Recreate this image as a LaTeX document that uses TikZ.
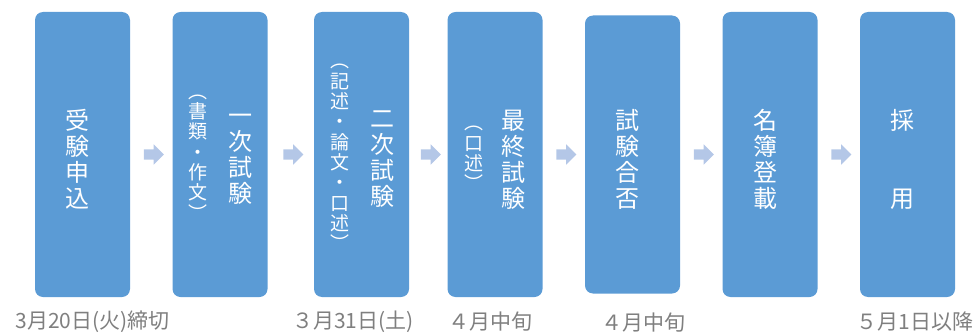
\documentclass[tikz,border=0pt]{standalone}
\usepackage{fontspec}
\setmainfont{Noto Sans CJK JP}
\usetikzlibrary{positioning, shapes.arrows}
\definecolor{stageblue}{HTML}{5B9BD5}
\definecolor{arrowblue}{HTML}{B4C7E7}
\definecolor{dategray}{HTML}{7F7F7F}

\begin{document}
\begin{tikzpicture}[x=1pt, y=1pt, node distance=137.5pt, on grid,
  stage/.style={rectangle, rounded corners=8pt, fill=stageblue, minimum width=95pt, minimum height=285pt, inner sep=0pt},
  maintext/.style={text=white, align=center, inner sep=0pt, font=\fontsize{24}{26}\selectfont},
  subtext/.style={text=white, align=center, inner sep=0pt, font=\fontsize{19}{20.3}\selectfont},
  datelabel/.style={text=dategray, inner sep=0pt, font=\fontsize{21}{24}\selectfont},
  flowarrow/.style={single arrow, fill=arrowblue, inner sep=0pt, text height=5pt, text depth=5pt, minimum height=20pt, minimum width=20pt, single arrow head extend=5pt}]
  \useasboundingbox (0,0) rectangle (975,333);

  % stages
  \node[stage] (apply) at (82.5,178.5) {};
  \node[stage] (first) [right=of apply] {};
  \node[stage] (second) [right=141.5pt of first] {};
  \node[stage] (final) [right=133.5pt of second] {};
  \node[stage, minimum height=278pt] (result) [right=of final] {};
  \node[stage] (roster) [right=of result] {};
  \node[stage] (hire) [right=of roster] {};

  % texts in the stages
  \node[maintext] (apply-t) [below left=5pt and 5pt of apply] {受\\験\\申\\込};
  \node[maintext] (first-t) [below right=5pt and 20.5pt of first] {一\\次\\試\\験};
  \node[subtext] (first-s) [below left=3pt and 22.5pt of first] {︵\\書\\類\\・\\作\\文\\︶};
  \node[maintext] (second-t) [below right=5pt and 21pt of second] {二\\次\\試\\験};
  \node[subtext] (second-s) [below left=3pt and 22pt of second] {︵\\記\\述\\・\\論\\文\\・\\口\\述\\︶};
  \node[maintext] (final-t) [below right=5pt and 18.5pt of final] {最\\終\\試\\験};
  \node[subtext] (final-s) [below left=4pt and 21.5pt of final] {︵\\口\\述\\︶};
  \node[maintext] (result-t) [below left=5pt and 5pt of result] {試\\験\\合\\否};
  \node[maintext] (roster-t) [below left=5pt and 5pt of roster] {名\\簿\\登\\載};
  \node[maintext] (hire-t) [below left=5pt and 5pt of hire] {採\\　\\　\\用};

  % dates
  \node[datelabel] (apply-d) [below right=167.5pt and 10pt of apply] {3月20日(火)締切};
  \node[datelabel] (second-d) [below left=167.5pt and 8.5pt of second] {３月31日(土)};
  \node[datelabel] (final-d) [below left=167.5pt and 5pt of final] {４月中旬};
  \node[datelabel] (result-d) [below right=168pt and 10.5pt of result] {４月中旬};
  \node[datelabel] (hire-d) [below right=167.5pt and 7.5pt of hire] {５月1日以降};

  \path
  (apply) -- node[flowarrow] {} (first)
  (first) -- node[flowarrow] {} (second)
  (second) -- node[flowarrow] {} (final)
  (final) -- node[flowarrow] {} (result)
  (result) -- node[flowarrow] {} (roster)
  (roster) -- node[flowarrow] {} (hire);
\end{tikzpicture}
\end{document}
